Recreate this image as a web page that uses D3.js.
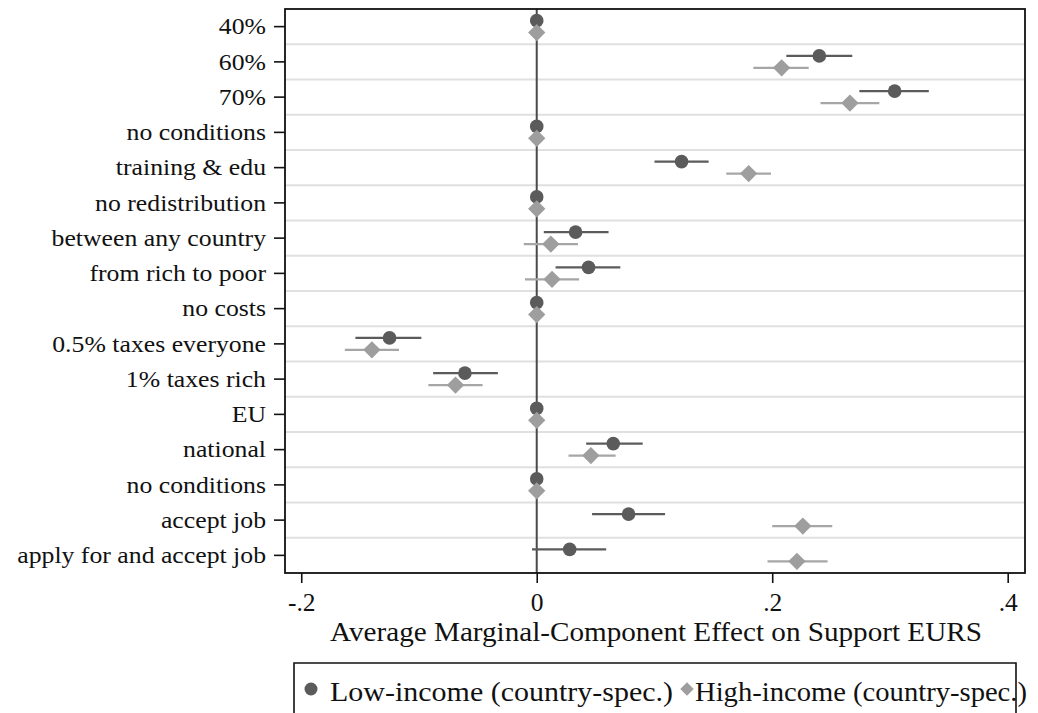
<!DOCTYPE html>
<html>
<head>
<meta charset="utf-8">
<script src="https://cdn.jsdelivr.net/npm/d3@7"></script>
<style>
  body { margin: 0; background: #fff; }
  svg { display: block; font-family: "Liberation Serif", "Times New Roman", serif; }
</style>
</head>
<body>
<svg id="chart" width="1038" height="713"></svg>
<script>
"use strict";

// row labels, top to bottom
var labels = ['40%', '60%', '70%', 'no conditions', 'training & edu', 'no redistribution',
  'between any country', 'from rich to poor', 'no costs', '0.5% taxes everyone',
  '1% taxes rich', 'EU', 'national', 'no conditions', 'accept job', 'apply for and accept job'];

// low-income (country-spec.) estimates and 95% CIs
var lowEst = [0, 0.240, 0.304, 0, 0.123, 0, 0.033, 0.044, 0, -0.125, -0.061, 0, 0.065, 0, 0.078, 0.028];
var lowLo  = [null, 0.212, 0.274, null, 0.100, null, 0.006, 0.016, null, -0.154, -0.088, null, 0.042, null, 0.047, -0.004];
var lowHi  = [null, 0.268, 0.333, null, 0.146, null, 0.061, 0.071, null, -0.098, -0.033, null, 0.090, null, 0.109, 0.059];

// high-income (country-spec.) estimates and 95% CIs
var highEst = [0, 0.208, 0.266, 0, 0.180, 0, 0.012, 0.013, 0, -0.140, -0.069, 0, 0.046, 0, 0.226, 0.221];
var highLo  = [null, 0.184, 0.241, null, 0.161, null, -0.011, -0.010, null, -0.163, -0.092, null, 0.027, null, 0.200, 0.196];
var highHi  = [null, 0.231, 0.291, null, 0.199, null, 0.035, 0.036, null, -0.117, -0.046, null, 0.067, null, 0.251, 0.247];

var xTicks = [-0.2, 0, 0.2, 0.4];
var xTitle = 'Average Marginal-Component Effect on Support EURS';
var legendNames = ['Low-income (country-spec.)', 'High-income (country-spec.)'];

var darkCol = '#5b5b5b';
var lightCol = '#9e9e9e';
var lightLine = '#a6a6a6';

function _make_plot(svg) {
  var left = 285, right = 1025, top = 9, bottom = 573;

  var _x = d3.scaleLinear().domain([-0.2138, 0.4147]).range([left, right]);
  var _y = d3.scaleBand().domain(d3.range(labels.length)).range([top, bottom]);
  var bw = _y.bandwidth();
  var yc = function (i) { return _y(i) + bw / 2; };

  var rows = labels.map(function (l, i) {
    return { i: i, le: lowEst[i], ll: lowLo[i], lh: lowHi[i], he: highEst[i], hl: highLo[i], hh: highHi[i] };
  });

  // gridlines between rows
  svg.append('g').selectAll('line')
    .data(d3.range(1, labels.length))
    .enter().append('line')
    .attr('x1', left).attr('x2', right)
    .attr('y1', function (i) { return _y(i); })
    .attr('y2', function (i) { return _y(i); })
    .attr('stroke', '#e0e0e0').attr('stroke-width', 2);

  // zero line
  svg.append('line')
    .attr('x1', _x(0)).attr('x2', _x(0))
    .attr('y1', top).attr('y2', bottom)
    .attr('stroke', '#4a4a4a').attr('stroke-width', 2);

  // confidence intervals
  var ci = rows.filter(function (d) { return d.ll !== null; });
  svg.append('g').selectAll('line')
    .data(ci).enter().append('line')
    .attr('x1', function (d) { return _x(d.ll); })
    .attr('x2', function (d) { return _x(d.lh); })
    .attr('y1', function (d) { return yc(d.i) - 6; })
    .attr('y2', function (d) { return yc(d.i) - 6; })
    .attr('stroke', darkCol).attr('stroke-width', 2.2);
  svg.append('g').selectAll('line')
    .data(ci).enter().append('line')
    .attr('x1', function (d) { return _x(d.hl); })
    .attr('x2', function (d) { return _x(d.hh); })
    .attr('y1', function (d) { return yc(d.i) + 6; })
    .attr('y2', function (d) { return yc(d.i) + 6; })
    .attr('stroke', lightLine).attr('stroke-width', 2.2);

  // markers
  svg.append('g').selectAll('circle')
    .data(rows).enter().append('circle')
    .attr('cx', function (d) { return _x(d.le); })
    .attr('cy', function (d) { return yc(d.i) - 6; })
    .attr('r', 6.8)
    .attr('fill', darkCol);
  var diamond = d3.symbol().type(d3.symbolSquare).size(150);
  svg.append('g').selectAll('path')
    .data(rows).enter().append('path')
    .attr('d', diamond)
    .attr('transform', function (d) {
      return 'translate(' + _x(d.he) + ',' + (yc(d.i) + 6) + ') rotate(45)';
    })
    .attr('fill', lightCol);

  // frame
  svg.append('rect')
    .attr('x', left).attr('y', top)
    .attr('width', right - left).attr('height', bottom - top)
    .attr('fill', 'none').attr('stroke', '#111').attr('stroke-width', 1.8);

  // y axis
  var ySx = 1.12;
  var yaxis = svg.append('g')
    .attr('transform', 'translate(' + left + ',0)')
    .call(d3.axisLeft(_y).tickSize(11).tickFormat(function (i) { return labels[i]; }));
  yaxis.select('.domain').remove();
  yaxis.selectAll('line').attr('stroke', '#111').attr('stroke-width', 1.6);
  yaxis.selectAll('text')
    .attr('x', -19 / ySx)
    .attr('dy', '0.34em')
    .attr('transform', 'scale(' + ySx + ',1)')
    .attr('font-size', 23)
    .attr('font-family', '"Liberation Serif", serif')
    .attr('fill', '#111');

  // x axis
  var xaxis = svg.append('g')
    .attr('transform', 'translate(0,' + bottom + ')')
    .call(d3.axisBottom(_x).tickValues(xTicks).tickSize(10)
      .tickFormat(function (d) {
        return d === 0 ? '0' : d3.format('.1f')(d).replace('0.', '.').replace('\u2212', '-');
      }));
  xaxis.select('.domain').remove();
  xaxis.selectAll('line').attr('stroke', '#111').attr('stroke-width', 1.6);
  xaxis.selectAll('text')
    .attr('y', 37.5).attr('dy', 0)
    .attr('font-size', 25.5)
    .attr('font-family', '"Liberation Serif", serif')
    .attr('fill', '#111');

  // x title
  svg.append('text')
    .attr('transform', 'translate(' + ((left + right) / 2 + 1) + ',641) scale(1.08,1)')
    .attr('text-anchor', 'middle')
    .attr('font-size', 27)
    .attr('fill', '#111')
    .text(xTitle);

  // legend
  var lg = svg.append('g');
  lg.append('path')
    .attr('d', 'M294,730 V663 H1016 V730')
    .attr('fill', 'none').attr('stroke', '#111').attr('stroke-width', 1.6);
  lg.append('circle').attr('cx', 311).attr('cy', 689).attr('r', 6.5).attr('fill', darkCol);
  lg.append('text')
    .attr('x', 330).attr('y', 701)
    .attr('textLength', 343).attr('lengthAdjust', 'spacingAndGlyphs')
    .attr('font-size', 28).attr('fill', '#111')
    .text(legendNames[0]);
  lg.append('path')
    .attr('d', d3.symbol().type(d3.symbolSquare).size(90))
    .attr('transform', 'translate(687,689) rotate(45)')
    .attr('fill', lightCol);
  lg.append('text')
    .attr('x', 695).attr('y', 701)
    .attr('textLength', 332).attr('lengthAdjust', 'spacingAndGlyphs')
    .attr('font-size', 28).attr('fill', '#111')
    .text(legendNames[1]);
}

_make_plot(d3.select('#chart'));
</script>
</body>
</html>
